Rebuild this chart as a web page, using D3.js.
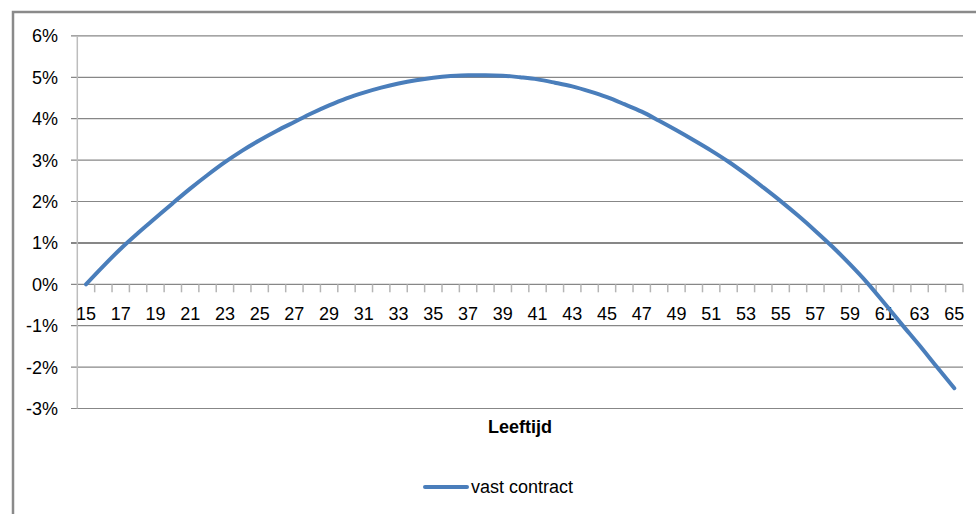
<!DOCTYPE html>
<html>
<head>
<meta charset="utf-8">
<script src="https://cdn.jsdelivr.net/npm/d3@7/dist/d3.min.js"></script>
<style>
  html, body { margin: 0; padding: 0; background: #fff; }
  svg { display: block; font-family: "Liberation Sans", Arial, sans-serif; }
</style>
</head>
<body>
<svg id="chart" width="976" height="514"></svg>
<script>
// Leeftijd (age) categories
const ages = d3.range(15, 66);
// Effect per age for "vast contract", in percent
const vastContract = [
  0.00, 0.44, 0.86, 1.24, 1.60, 1.96, 2.31, 2.64, 2.95, 3.23,
  3.48, 3.71, 3.92, 4.13, 4.32, 4.49, 4.63, 4.75, 4.85, 4.93,
  4.99, 5.03, 5.05, 5.05, 5.04, 5.00, 4.95, 4.87, 4.78, 4.66,
  4.52, 4.35, 4.17, 3.95, 3.72, 3.48, 3.23, 2.96, 2.66, 2.34,
  2.01, 1.66, 1.29, 0.90, 0.48, 0.03, -0.47, -0.98, -1.48, -2.00,
  -2.51
];
const yTicks = [-3, -2, -1, 0, 1, 2, 3, 4, 5, 6];
const xLabelAges = ages.filter(a => a % 2 === 1);
const seriesName = "vast contract";
const axisTitle = "Leeftijd";

const svg = d3.select("#chart");

// outer chart frame (continues past the right and bottom edges)
svg.append("rect")
  .attr("x", 13).attr("y", 12)
  .attr("width", 1000).attr("height", 600)
  .attr("fill", "none")
  .attr("stroke", "#8a8a8a")
  .attr("stroke-width", 2.5);

const plotLeft = 77.3, plotRight = 963;
const x = d3.scaleBand().domain(ages).range([plotLeft, plotRight]).padding(0);
const y = d3.scaleLinear().domain([-3, 6]).range([408.5, 35.9]);

// horizontal gridlines with short ticks to the left of the value axis
svg.append("g").selectAll("line")
  .data(yTicks).join("line")
  .attr("x1", 71).attr("x2", plotRight)
  .attr("y1", d => y(d)).attr("y2", d => y(d))
  .attr("stroke", "#878787")
  .attr("stroke-width", d => d === 1 ? 2 : 1.2);

// value axis line
svg.append("line")
  .attr("x1", plotLeft).attr("x2", plotLeft)
  .attr("y1", y(6)).attr("y2", y(-3))
  .attr("stroke", "#bdbdbd").attr("stroke-width", 1.5);

// value axis labels
svg.append("g").selectAll("text")
  .data(yTicks).join("text")
  .attr("x", 58).attr("y", d => y(d) + 6.5)
  .attr("text-anchor", "end")
  .attr("font-size", 18)
  .attr("fill", "#000")
  .text(d => d + "%");

// category tick marks at band boundaries, hanging below the 0% line
const boundaries = ages.map(a => x(a) + x.bandwidth());
svg.append("g").selectAll("line")
  .data(boundaries).join("line")
  .attr("x1", d => d).attr("x2", d => d)
  .attr("y1", y(0)).attr("y2", y(0) + 8)
  .attr("stroke", "#b5b5b5").attr("stroke-width", 1.5);

// category labels (every other age)
svg.append("g").selectAll("text")
  .data(xLabelAges).join("text")
  .attr("x", d => x(d) + x.bandwidth() / 2)
  .attr("y", 320)
  .attr("text-anchor", "middle")
  .attr("font-size", 18)
  .attr("fill", "#000")
  .text(d => d);

// axis title
svg.append("text")
  .attr("x", 520).attr("y", 433)
  .attr("text-anchor", "middle")
  .attr("font-size", 18)
  .attr("font-weight", "bold")
  .text(axisTitle);

// series line
const line = d3.line()
  .x((d, i) => x(ages[i]) + x.bandwidth() / 2)
  .y(d => y(d))
  .curve(d3.curveMonotoneX);

svg.append("path")
  .datum(vastContract)
  .attr("d", line)
  .attr("fill", "none")
  .attr("stroke", "#4a7ebb")
  .attr("stroke-width", 4)
  .attr("stroke-linecap", "round")
  .attr("stroke-linejoin", "round");

// legend
svg.append("line")
  .attr("x1", 425).attr("x2", 467)
  .attr("y1", 487).attr("y2", 487)
  .attr("stroke", "#4a7ebb").attr("stroke-width", 4)
  .attr("stroke-linecap", "round");
svg.append("text")
  .attr("x", 471).attr("y", 493)
  .attr("font-size", 18)
  .attr("fill", "#000")
  .text(seriesName);
</script>
</body>
</html>
